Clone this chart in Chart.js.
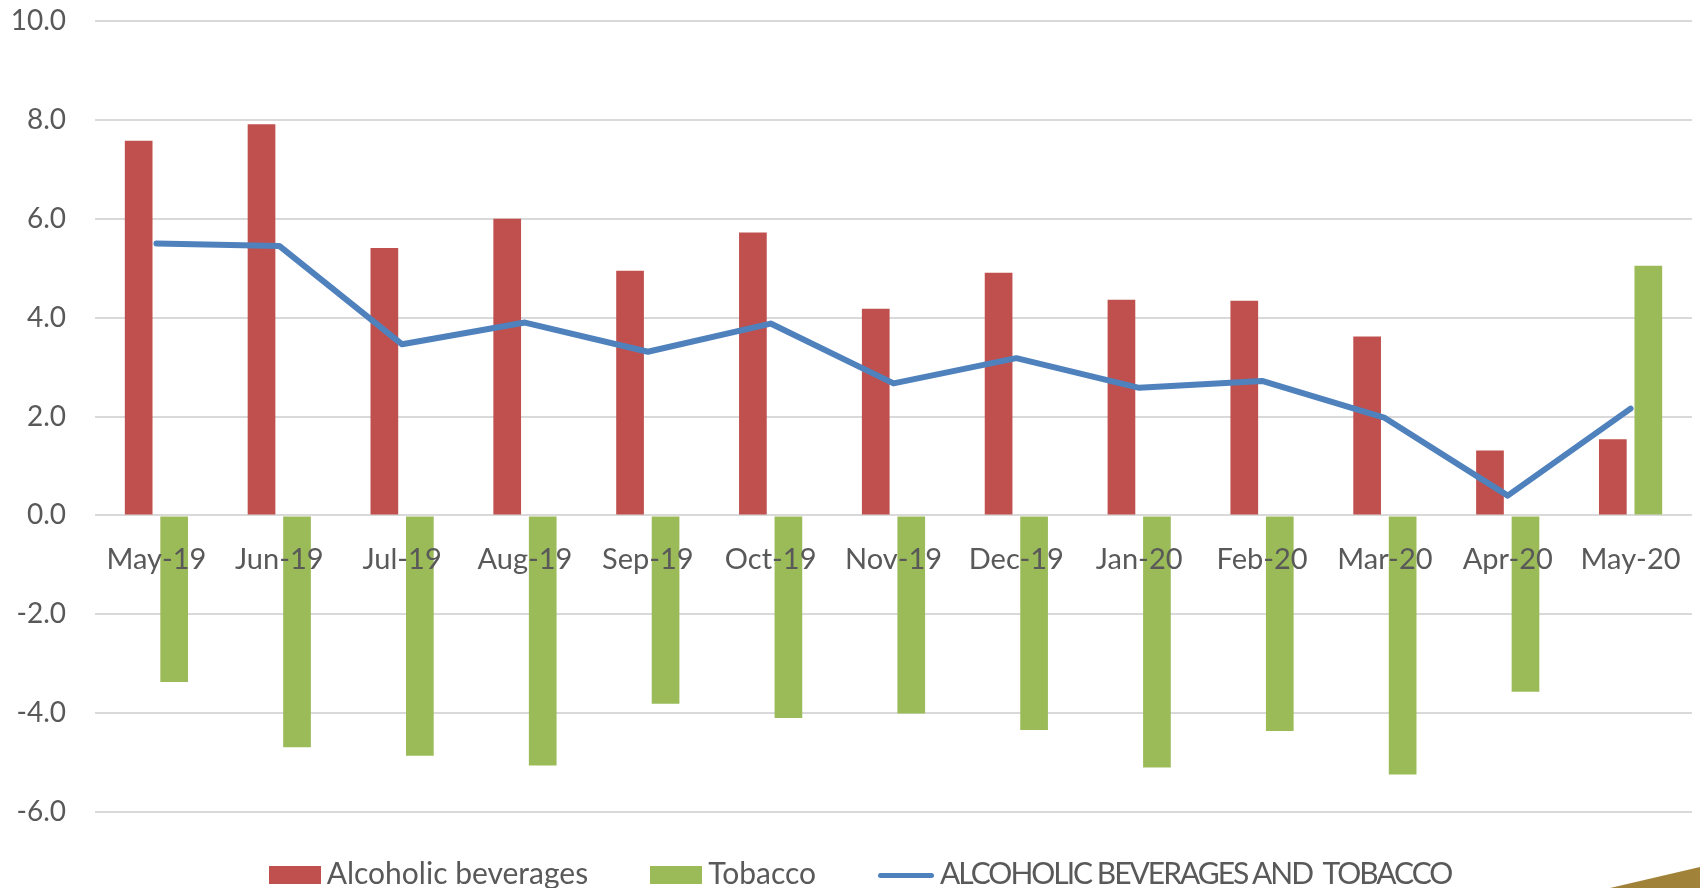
<!DOCTYPE html>
<html>
<head>
<meta charset="utf-8">
<script src="https://cdn.jsdelivr.net/npm/chart.js@4.4.1/dist/chart.umd.min.js"></script>
<style>
  html, body { margin: 0; padding: 0; background: #fff; overflow: hidden; }
  #wrap { position: relative; width: 1700px; height: 888px; }
  #legend { position: absolute; left: 10px; top: 854px; width: 1700px; display: flex; justify-content: center; gap: 62px;
            font-family: Lato, "Open Sans", sans-serif; font-size: 30px; line-height: 36px; color: #595959; white-space: pre; }
  #legend .item { display: flex; align-items: center; }
  #legend .swatch { display: inline-block; margin-right: 6px; position: relative; top: 3px; }
  #legend .condensed { letter-spacing: -2px; }
  .corner { position: absolute; right: 0; bottom: 0; width: 90px; height: 21px; background: #A08339;
            clip-path: polygon(0 100%, 100% 0, 100% 100%); }
</style>
</head>
<body>
<div id="wrap">
  <canvas id="grafico" width="1700" height="888"></canvas>
  <div id="legend"></div>
  <div class="corner"></div>
</div>
<script>
// Dados
const categorias = ['May-19', 'Jun-19', 'Jul-19', 'Aug-19', 'Sep-19', 'Oct-19', 'Nov-19',
                    'Dec-19', 'Jan-20', 'Feb-20', 'Mar-20', 'Apr-20', 'May-20'];
const alcoholicBeverages = [7.58, 7.91, 5.41, 6.00, 4.95, 5.72, 4.18, 4.91, 4.36, 4.34, 3.62, 1.31, 1.54];
const tobacco = [-3.37, -4.69, -4.86, -5.06, -3.81, -4.10, -4.01, -4.34, -5.10, -4.36, -5.24, -3.57, 5.05];
const alcoholAndTobacco = [5.50, 5.45, 3.46, 3.90, 3.31, 3.88, 2.67, 3.18, 2.58, 2.72, 1.97, 0.40, 2.16];
const yTicks = [10, 8, 6, 4, 2, 0, -2, -4, -6];

// Legenda em HTML, gerada a partir do gráfico
const htmlLegend = {
    id: 'htmlLegend',
    afterUpdate(chart) {
        const box = document.getElementById('legend');
        box.innerHTML = '';
        const items = chart.options.plugins.legend.labels.generateLabels(chart)
            .sort((a, b) => a.datasetIndex - b.datasetIndex);
        items.forEach(function (item) {
            const ds = chart.data.datasets[item.datasetIndex];
            const li = document.createElement('div');
            li.className = 'item';
            const sw = document.createElement('span');
            sw.className = 'swatch';
            const txt = document.createElement('span');
            txt.textContent = item.text;
            if (ds.type === 'line') {
                sw.style.width = '56px';
                sw.style.height = '5px';
                sw.style.borderRadius = '3px';
                sw.style.background = ds.borderColor;
                txt.className = 'condensed';
            } else {
                sw.style.width = '52px';
                sw.style.height = '18px';
                sw.style.background = ds.backgroundColor;
            }
            li.appendChild(sw);
            li.appendChild(txt);
            box.appendChild(li);
        });
    }
};

const ctx = document.getElementById('grafico').getContext('2d');
new Chart(ctx, {
    data: {
        labels: categorias,
        datasets: [
            {
                type: 'bar',
                label: 'Alcoholic beverages',
                data: alcoholicBeverages,
                backgroundColor: '#C0504D',
                borderWidth: 0,
                categoryPercentage: 0.578,
                barPercentage: 0.78,
                order: 2
            },
            {
                type: 'bar',
                label: 'Tobacco',
                data: tobacco,
                backgroundColor: '#9BBB59',
                borderWidth: 0,
                categoryPercentage: 0.578,
                barPercentage: 0.78,
                order: 2
            },
            {
                type: 'line',
                label: 'ALCOHOLIC BEVERAGES AND  TOBACCO',
                data: alcoholAndTobacco,
                borderColor: '#4F81BD',
                backgroundColor: '#4F81BD',
                borderWidth: 6,
                borderCapStyle: 'round',
                borderJoinStyle: 'round',
                pointRadius: 0,
                tension: 0,
                order: 1
            }
        ]
    },
    options: {
        responsive: false,
        animation: false,
        layout: { padding: { top: 21, right: 8, bottom: 76, left: 0 } },
        plugins: {
            legend: { display: false },
            tooltip: { enabled: false }
        },
        scales: {
            x: {
                position: { y: 0 },
                grid: { display: false },
                border: { display: false },
                ticks: {
                    z: 1,
                    padding: 19,
                    color: '#595959',
                    maxRotation: 0,
                    autoSkip: false,
                    font: { family: 'Lato', size: 29 }
                },
                afterFit(scale) { scale.height = 0; }
            },
            y: {
                min: Math.min(...yTicks),
                max: Math.max(...yTicks),
                grid: { color: '#D9D9D9', lineWidth: 2, drawTicks: false },
                border: { display: false },
                afterBuildTicks(scale) { scale.ticks = yTicks.map(v => ({ value: v })); },
                ticks: {
                    padding: 29,
                    color: '#595959',
                    font: { family: 'Lato', size: 28 },
                    callback: v => Number(v).toFixed(1)
                },
                afterFit(scale) {
                    scale.width = 95;
                    scale.paddingTop = 0;
                    scale.paddingBottom = 0;
                }
            }
        }
    },
    plugins: [htmlLegend]
});
</script>
</body>
</html>
